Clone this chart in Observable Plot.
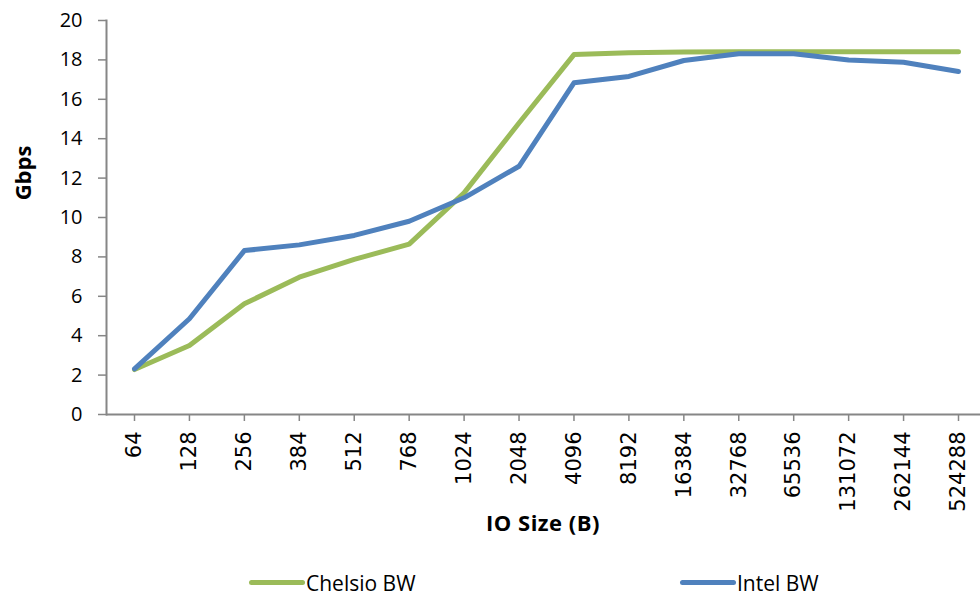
<!DOCTYPE html>
<html><head><meta charset="utf-8">
<script src="https://cdn.jsdelivr.net/npm/d3@7"></script>
<script src="https://cdn.jsdelivr.net/npm/@observablehq/plot@0.6"></script>
<style>
body{margin:0;background:#fff;}
#wrap{position:relative;width:980px;height:596px;overflow:hidden;background:#fff;}
#ylabel{position:absolute;left:22px;top:173px;transform:translate(-50%,-50%) rotate(-90deg);font:bold 22px "Open Sans";white-space:nowrap;color:#000;}
#xlabel{position:absolute;left:543px;top:522px;transform:translate(-50%,-50%);font:bold 22px "Open Sans";white-space:nowrap;color:#000;letter-spacing:0.5px;}
.item{position:absolute;top:569px;height:27px;line-height:27px;display:flex;align-items:center;font:21px "Open Sans";color:#000;white-space:nowrap;}
.swatch{width:56px;height:5px;border-radius:3px;margin-right:1px;}
g[aria-label="x-axis tick label"], g[aria-label="x-axis tick label"] text{font-family:"DejaVu Sans" !important;font-size:21px !important;}
g[aria-label="y-axis tick label"], g[aria-label="y-axis tick label"] text{font-family:"Open Sans" !important;font-size:20px !important;}
</style></head><body>
<div id="wrap"><div id="chart"></div><div id="ylabel">Gbps</div><div id="xlabel">IO Size (B)</div><div id="legend"></div></div>
<script>
const ioSizes = ["64","128","256","384","512","768","1024","2048","4096","8192","16384","32768","65536","131072","262144","524288"];
const chelsioBW = [2.28,3.5,5.62,6.97,7.87,8.65,11.25,14.8,18.27,18.36,18.4,18.42,18.42,18.42,18.42,18.42];
const intelBW = [2.32,4.86,8.32,8.61,9.09,9.81,11.0,12.6,16.84,17.16,17.97,18.31,18.31,18.0,17.88,17.41];
const seriesNames = ["Chelsio BW","Intel BW"];
const seriesColors = ["#9BBB59","#4F81BD"];
const yTicks = [0,2,4,6,8,10,12,14,16,18,20];

const rows = [];
ioSizes.forEach((s,i)=>rows.push({size:s,value:chelsioBW[i],series:seriesNames[0]}));
ioSizes.forEach((s,i)=>rows.push({size:s,value:intelBW[i],series:seriesNames[1]}));

const chart = Plot.plot({
  width: 980, height: 560,
  marginLeft: 106, marginRight: 0, marginTop: 20, marginBottom: 146,
  style: {fontFamily: "Open Sans", fontSize: "20px", color: "#000", background: "#fff"},
  x: {type: "point", domain: ioSizes, padding: 0, round: false, insetLeft: 28, insetRight: 22},
  y: {domain: [0, 20]},
  color: {domain: seriesNames, range: seriesColors},
  marks: [
    Plot.axisY({ticks: yTicks, tickSize: 8, tickPadding: 16, stroke: "#868686", strokeWidth: 1.5, label: null, tickFormat: d => String(d)}),
    Plot.axisX({tickSize: 7, tickPadding: 10, tickRotate: -90, stroke: "#868686", strokeWidth: 1.5, label: null}),
    Plot.frame({anchor: "left", stroke: "#868686", strokeWidth: 2}),
    Plot.ruleY([0], {stroke: "#868686", strokeWidth: 2}),
    Plot.line(rows, {x: "size", y: "value", z: "series", stroke: "series", strokeWidth: 5, strokeLinecap: "round", strokeLinejoin: "round"})
  ]
});
document.getElementById("chart").appendChild(chart);

const legend = document.getElementById("legend");
const legendLeft = [249, 680];
seriesNames.forEach((name, i) => {
  const item = document.createElement("div");
  item.className = "item";
  item.style.left = legendLeft[i] + "px";
  const sw = document.createElement("span");
  sw.className = "swatch";
  sw.style.background = seriesColors[i];
  item.appendChild(sw);
  item.appendChild(document.createTextNode(name));
  legend.appendChild(item);
});
</script>
</body></html>
